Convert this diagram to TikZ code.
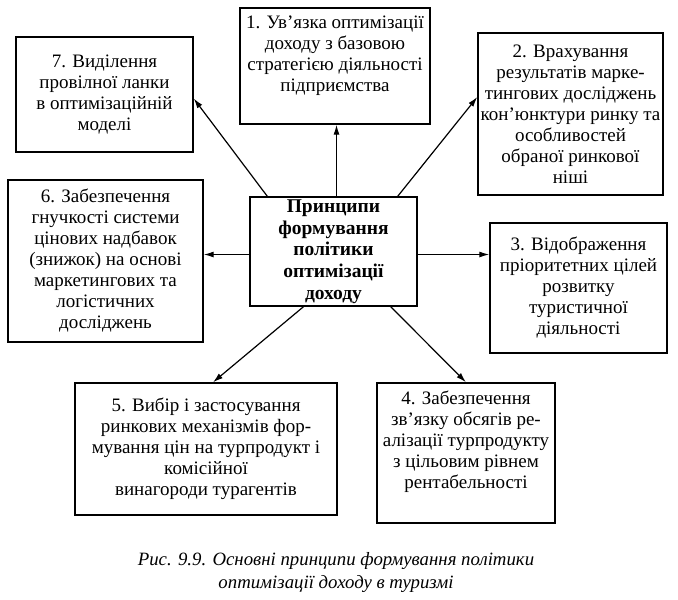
\documentclass[tikz,border=0pt]{standalone}
\usepackage{fontspec}
\setmainfont{Liberation Serif}
\usetikzlibrary{calc,arrows.meta}
\begin{document}
\begin{tikzpicture}[x=1pt,y=-1pt,
  box/.style={draw,line width=1.4pt,align=center,inner sep=2pt,
    font=\fontsize{19}{21}\selectfont},
  arr/.style={line width=1.2pt,-{Latex[length=10pt,width=6pt]}}]
\useasboundingbox (0,0) rectangle (678,600);
\node[box,minimum width=177pt,minimum height=115pt] (b7) at (104.5,94.5)
  {7. Виділення\\провілної ланки\\в оптимізаційній\\моделі};
\node[box,minimum width=190pt,minimum height=116pt] (b1) at (335,66)
  {1. Ув’язка оптимізації\\доходу з базовою\\стратегією діяльності\\підприємства\\[4pt]};
\node[box,minimum width=185pt,minimum height=162pt] (b2) at (570.5,114)
  {2. Врахування\\результатів марке-\\тингових досліджень\\кон’юнктури ринку та\\особливостей\\обраної ринкової\\ніші};
\node[box,minimum width=167pt,minimum height=109pt,font=\fontsize{19.5}{21.7}\selectfont\bfseries] (c) at (333.5,251.5)
  {Принципи\\формування\\політики\\оптимізації\\доходу};
\node[box,minimum width=195pt,minimum height=162pt] (b6) at (105.5,261)
  {6. Забезпечення\\гнучкості системи\\цінових надбавок\\(знижок) на основі\\маркетингових та\\логістичних\\досліджень};
\node[box,minimum width=177pt,minimum height=130pt] (b3) at (578.5,288)
  {3. Відображення\\пріоритетних цілей\\розвитку\\туристичної\\діяльності};
\node[box,minimum width=262pt,minimum height=132pt] (b5) at (206,449)
  {5. Вибір і застосування\\ринкових механізмів фор-\\мування цін на турпродукт і\\комісійної\\винагороди турагентів};
\node[box,minimum width=178pt,minimum height=140pt] (b4) at (466,453)
  {4. Забезпечення\\зв’язку обсягів ре-\\алізації турпродукту\\з цільовим рівнем\\рентабельності\\[6pt]};
\node[align=center,font=\fontsize{18.8}{23}\selectfont\itshape] (cap) at (336,572)
  {Рис. 9.9. Основні принципи формування політики\\оптимізації доходу в туризмі};
\coordinate (s1) at ($(c.north)+(3,0)$);
\coordinate (s3) at ($(c.east)+(0,3)$);
\coordinate (s6) at ($(c.west)+(0,3)$);
\draw[arr] ($(c.north west)+(18,0)$) -- ($(b7.east)+(0,4)$);
\draw[arr] (s1) -- (s1 |- b1.south);
\draw[arr] ($(c.north east)+(-20,0)$) -- ($(b2.west)+(0,-17)$);
\draw[arr] (s3) -- (s3 -| b3.west);
\draw[arr] ($(c.south east)+(-27,0)$) -- (b4.north);
\draw[arr] ($(c.south)+(-30,0)$) -- ($(b5.north)+(7,0)$);
\draw[arr] (s6) -- (s6 -| b6.east);
\end{tikzpicture}
\end{document}
